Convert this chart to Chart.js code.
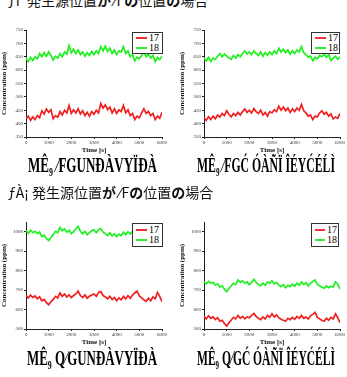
<!DOCTYPE html>
<html>
<head>
<meta charset="utf-8">
<script src="https://cdn.jsdelivr.net/npm/chart.js@4.4.1/dist/chart.umd.min.js"></script>
<style>
body{margin:0;background:#fff;width:347px;height:377px;overflow:hidden;position:relative;font-family:'Liberation Serif',serif}
.panel{position:absolute;width:170px;height:132px}
.legend{position:absolute;background:#fff;border:1px solid #333;font:10px 'Liberation Serif',serif;line-height:10px;padding:0 1px 0 3px;box-sizing:border-box}
.legend div{display:flex;align-items:center;height:10px}
.legend i{display:inline-block;width:11px;height:1.5px;margin-right:2px}
.head{position:absolute;left:8px;font:14px 'Noto Sans CJK JP',sans-serif;white-space:nowrap;color:#111}
.head b{font-weight:700}
.cap{position:absolute;font:bold 22px 'Liberation Serif',serif;white-space:nowrap;transform-origin:0 0;color:#000}
</style>
</head>
<body>
<div class="head" style="top:-10px">ƒΙ' 発生源位置<b>が</b> ⁄Γ<b>の</b>位置<b>の</b>場合</div>

<div class="panel" style="left:0;top:22px"><canvas id="c1" width="170" height="132"></canvas></div>
<div class="panel" style="left:178px;top:22px"><canvas id="c2" width="170" height="132"></canvas></div>

<div class="legend" style="left:132px;top:32px;width:31px;height:22px"><div><i style="background:#f03030"></i>17</div><div><i style="background:#30f030"></i>18</div></div>
<div class="legend" style="left:311px;top:32px;width:29px;height:22px"><div><i style="background:#f03030"></i>17</div><div><i style="background:#30f030"></i>18</div></div>

<div class="cap" id="cap1" data-w="129" style="left:28px;top:152px">MÊ₉ ⁄FGUNĐÀVYÏĐÀ</div>
<div class="cap" id="cap2" data-w="138" style="left:197px;top:152px">MÊ₉ ⁄FGĆ ÓÀÑÏ ÎÉYĆÉĹÌ</div>

<div class="head" style="top:182px">ƒÀ¡ 発生源位置<b>が</b> ⁄F<b>の</b>位置<b>の</b>場合</div>

<div class="panel" style="left:0;top:214px"><canvas id="c3" width="170" height="132"></canvas></div>
<div class="panel" style="left:178px;top:214px"><canvas id="c4" width="170" height="132"></canvas></div>

<div class="legend" style="left:132px;top:223px;width:31px;height:24px;padding-top:1px"><div><i style="background:#f03030"></i>17</div><div><i style="background:#30f030"></i>18</div></div>
<div class="legend" style="left:311px;top:223px;width:28px;height:24px;padding-top:1px"><div><i style="background:#f03030"></i>17</div><div><i style="background:#30f030"></i>18</div></div>

<div class="cap" id="cap3" data-w="130" style="left:27px;top:345px">MÊ₉ Q⁄GUNĐÀVYÏĐÀ</div>
<div class="cap" id="cap4" data-w="138" style="left:197px;top:345px">MÊ₉ Q⁄GĆ ÓÀÑÏ ÎÉYĆÉĹÌ</div>

<script>
// time axis (s)
const times = [0,100,200,300,400,500,600,700,800,900,1000,1100,1200,1300,1400,1500,1600,1700,1800,1900,
  2000,2100,2200,2300,2400,2500,2600,2700,2800,2900,3000,3100,3200,3300,3400,3500,3600,3700,3800,3900,
  4000,4100,4200,4300,4400,4500,4600,4700,4800,4900,5000,5100,5200,5300,5400,5500,5600,5700,5800,5900,6000];
const xTicks = [0,1000,2000,3000,4000,5000,6000];
const yTicksTop = [350,400,450,500,550,600,650,700,750];
const yTicksBottom = [500,600,700,800,900,1000];

// panel 1 (top left)
const red1 = [418,428,412,425,415,430,422,448,436,455,442,452,418,430,424,445,432,450,440,468,
  438,452,440,456,436,448,430,442,428,445,435,450,440,475,458,470,452,462,440,455,
  438,452,445,468,440,452,430,438,415,428,422,440,455,438,446,430,438,415,428,420,442];
const green1 = [645,632,648,636,650,642,662,650,665,652,668,655,638,652,645,662,650,668,660,692,
  665,678,662,675,658,668,652,665,655,670,658,672,662,688,672,690,670,682,662,675,
  658,672,668,688,662,672,650,658,635,648,642,655,668,650,660,645,655,632,648,640,652];
// panel 2 (top right)
const red2 = [422,412,426,415,428,418,432,425,438,430,448,435,425,438,430,442,432,445,455,442,
  450,440,456,445,438,450,432,442,428,445,440,452,445,465,450,462,448,458,442,455,
  445,458,450,472,448,440,428,432,415,428,425,440,448,435,442,428,436,418,425,420,438];
const green2 = [645,635,648,632,645,640,652,662,650,660,652,645,640,655,645,658,650,662,672,660,
  668,658,672,662,655,668,652,665,655,668,658,672,662,682,668,678,665,675,660,672,
  662,675,668,688,665,658,648,652,635,648,642,655,650,660,648,658,636,645,652,640,650];
// panel 3 (bottom left)
const red3 = [672,660,675,662,670,655,665,645,652,635,625,640,652,668,660,685,668,680,665,675,
  662,672,680,695,672,662,675,658,668,675,680,668,688,692,672,665,655,668,652,662,
  645,660,650,668,655,672,658,675,685,695,670,660,650,642,658,645,665,655,688,668,640];
const green3 = [1005,992,1008,995,1002,990,998,975,982,965,955,970,985,1002,995,1022,1005,1015,998,1008,
  990,1000,1015,1028,1002,990,1002,985,995,1005,1010,995,1012,1015,998,990,980,995,978,990,
  975,988,980,998,985,1000,988,1002,1012,1020,995,988,978,970,985,975,990,982,1005,990,978];
// panel 4 (bottom right)
const red4 = [565,552,568,555,562,548,558,540,545,528,515,532,545,560,552,570,555,565,552,562,
  558,570,580,565,555,548,562,552,570,560,578,562,572,558,550,545,540,555,548,560,
  550,565,555,570,555,562,552,568,575,585,560,552,545,540,555,545,560,552,578,558,532];
const green4 = [742,732,745,735,740,725,732,715,722,705,692,708,722,735,728,752,740,748,735,742,
  728,740,755,740,728,722,735,725,742,735,748,732,740,725,718,728,712,725,718,730,
  720,735,725,742,728,738,722,735,745,752,728,722,715,710,722,712,720,715,742,730,705];

const serif = "'Liberation Serif', 'Times New Roman', serif";

function makeChart(id, red, green, yMin, yMax, yTicks) {
  const pts = arr => arr.map((v, i) => ({x: times[i], y: v}));
  return new Chart(document.getElementById(id), {
    type: 'line',
    data: {
      datasets: [
        {label: '17', data: pts(red), borderColor: '#f02020', borderWidth: 1.7, pointRadius: 0, tension: 0},
        {label: '18', data: pts(green), borderColor: '#20f020', borderWidth: 1.7, pointRadius: 0, tension: 0}
      ]
    },
    options: {
      responsive: false,
      animation: false,
      layout: {padding: {top: 8, right: 8, left: 0, bottom: 0}},
      plugins: {legend: {display: false}, tooltip: {enabled: false}},
      scales: {
        x: {
          type: 'linear', min: 0, max: 6000,
          afterBuildTicks: s => { s.ticks = xTicks.map(v => ({value: v})); },
          afterFit: s => { s.height = 17; },
          border: {color: '#222', width: 1},
          grid: {drawOnChartArea: false, tickLength: 2, color: '#222'},
          ticks: {font: {size: 5, family: serif}, color: '#333', padding: 1, maxRotation: 0, callback: v => String(v)},
          title: {display: true, text: 'Time [s]', font: {size: 7, weight: 'bold', family: serif}, color: '#111', padding: {top: -1, bottom: 0}}
        },
        y: {
          min: yMin, max: yMax,
          afterBuildTicks: s => { s.ticks = yTicks.map(v => ({value: v})); },
          afterFit: s => { s.width = 26; },
          border: {color: '#222', width: 1},
          grid: {drawOnChartArea: false, tickLength: 2, color: '#222'},
          ticks: {font: {size: 5, family: serif}, color: '#333', padding: 1, callback: v => String(v)},
          title: {display: true, text: 'Concentration (ppm)', font: {size: 7, weight: 'bold', family: serif}, color: '#111', padding: {top: 0, bottom: 1}}
        }
      }
    }
  });
}

makeChart('c1', red1, green1, 350, 750, yTicksTop);
makeChart('c2', red2, green2, 350, 750, yTicksTop);
makeChart('c3', red3, green3, 500, 1050, yTicksBottom);
makeChart('c4', red4, green4, 500, 1050, yTicksBottom);

// squeeze the captions to their widths
document.querySelectorAll('.cap').forEach(el => {
  const w = el.getBoundingClientRect().width;
  el.style.transform = 'scaleX(' + (el.dataset.w / w) + ')';
});
</script>
</body>
</html>
